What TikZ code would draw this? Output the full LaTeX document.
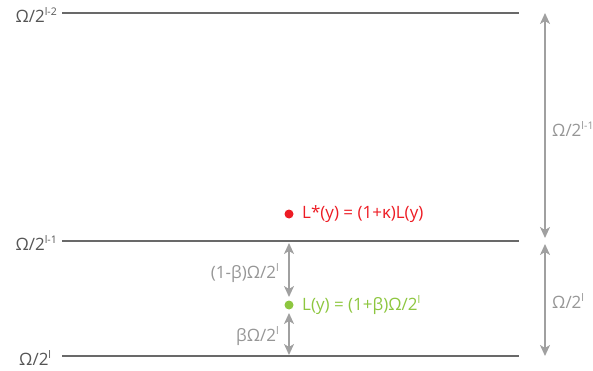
\documentclass[tikz,border=0pt]{standalone}
\usepackage{fontspec}
\setmainfont{Open Sans}
\usetikzlibrary{arrows.meta}
\definecolor{linegray}{RGB}{105,105,105}
\definecolor{arrgray}{RGB}{160,160,160}
\definecolor{txtgray}{RGB}{150,150,150}
\definecolor{lblgray}{RGB}{85,85,85}
\definecolor{myred}{RGB}{237,28,36}
\definecolor{mygreen}{RGB}{141,198,63}
\newcommand{\supx}[1]{\raisebox{0.42em}{\fontsize{10.5}{12}\selectfont #1}}
\begin{document}
\begin{tikzpicture}[x=1pt,y=-1pt,
  level/.style={draw=linegray,line width=1.4pt},
  lvllabel/.style={anchor=east,inner sep=0pt,text=lblgray,font=\fontsize{17}{20}\selectfont},
  dimarrow/.style={draw=arrgray,line width=1.6pt,{Stealth[length=11pt,width=10pt,inset=3pt]}-{Stealth[length=11pt,width=10pt,inset=3pt]}},
  dimlabel/.style={inner sep=0pt,text=txtgray,font=\fontsize{17}{20}\selectfont},
  dot/.style={circle,inner sep=0pt,minimum size=9pt},
  formula/.style={anchor=west,inner sep=0pt,font=\fontsize{17}{20}\selectfont}]
\useasboundingbox (0,0) rectangle (593,371);
% levels
\coordinate (t0) at (62,13);
\coordinate (t1) at (519,13);
\coordinate (m0) at (62,241);
\coordinate (m1) at (519,241);
\coordinate (b0) at (62,356);
\coordinate (b1) at (519,356);
\draw[level] (t0) -- (t1);
\draw[level] (m0) -- (m1);
\draw[level] (b0) -- (b1);
\node[lvllabel] (lt) at (57,15) {Ω/2\supx{l-2}};
\node[lvllabel] (lm) at (57,243) {Ω/2\supx{l-1}};
\node[lvllabel] (lb) at (57,358) {Ω/2\supx{l}\,\,};
% right dimension arrows
\coordinate (r0) at (545,13);
\coordinate (r1) at (545,238);
\coordinate (r2) at (545,244);
\coordinate (r3) at (545,356);
\draw[dimarrow] (r0) -- (r1);
\draw[dimarrow] (r2) -- (r3);
\node[dimlabel,anchor=west] (rl1) at (552,129) {Ω/2\supx{l-1}};
\node[dimlabel,anchor=west] (rl2) at (552,301) {Ω/2\supx{l}};
% dots
\node[dot,fill=myred] (red) at (289,214) {};
\node[formula,text=myred] (redt) at (302,214) {L*(y) = (1+κ)L(y)};
\node[dot,fill=mygreen] (green) at (289,305) {};
\node[formula,text=mygreen] (greent) at (302,305) {L(y) = (1+β)Ω/2\supx{l}};
% middle arrows
\coordinate (a0) at (289,243);
\coordinate (a1) at (289,297);
\coordinate (a2) at (289,313);
\coordinate (a3) at (289,355);
\draw[dimarrow] (a0) -- (a1);
\draw[dimarrow] (a2) -- (a3);
\node[dimlabel,anchor=east] (ml1) at (279,273) {(1-β)Ω/2\supx{l}};
\node[dimlabel,anchor=east] (ml2) at (279,336) {βΩ/2\supx{l}};
\end{tikzpicture}
\end{document}
